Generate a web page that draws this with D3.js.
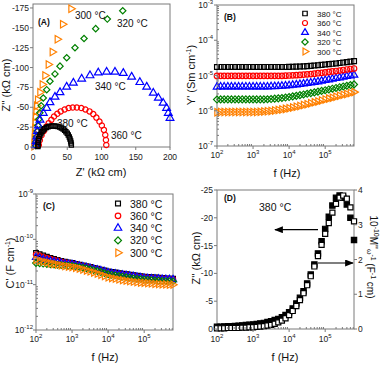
<!DOCTYPE html>
<html>
<head>
<meta charset="utf-8">
<script src="https://cdn.jsdelivr.net/npm/d3@7"></script>
<style>
    body { margin: 0; background: #fff; }
    svg { display: block; font-family: Arial, "Liberation Sans", sans-serif; }
</style>
</head>
<body>
<svg id="chart" width="380" height="366"></svg>
<script>
// ---- data ----
const temps = ['380 °C', '360 °C', '340 °C', '320 °C', '300 °C'];
const colors = ['#000000', '#ff0000', '#0000ff', '#008000', '#ff8000'];
const shapes = ['square', 'circle', 'triangle', 'diamond', 'right'];

// (A) Nyquist plots, [Z', -Z''] in kOhm cm
const nyq380 = [[7.2, 0.5], [7.3, 2.5], [7.5, 5.2], [7.8, 8], [8.4, 10.5], [9.2, 13], [10.3, 15.3], [11.7, 17.7],
    [13.2, 19.6], [15, 21.5], [17, 23], [19.5, 24.5], [22, 25.5], [24.8, 26.2], [27.7, 26.5], [30.7, 26.6],
    [33.5, 26.2], [36.5, 25.7], [39, 25], [41.4, 24], [44, 22.6], [46.2, 21.1], [48, 19.3], [50, 17.3],
    [51.5, 15], [53, 12.7], [54, 10], [55, 7.6], [55.5, 5], [56, 2.5]];
const nyq360 = [[8.5, 2.5], [10, 8.5], [12.5, 14.8], [16, 20.3], [19.5, 25.7], [22.9, 30], [26.8, 34.2],
    [30.7, 38.4], [35.5, 41.8], [40.4, 44.8], [46.2, 47.3], [52, 49], [58, 49.8], [64, 49.8], [70.5, 49],
    [76.5, 47.3], [82.5, 44.8], [88, 41.4], [92.5, 37], [97, 32], [100.5, 27], [103.5, 21.5], [105.5, 15.2],
    [106.5, 8.9], [107, 2.5]];
const nyq340 = [[4, 2], [4.5, 7], [5.5, 13], [6.5, 20], [8, 27], [10.2, 34.2], [15, 42.7], [20, 49], [24.8, 56.2],
    [32.1, 63], [39.4, 68.8], [49.1, 75.7], [58.9, 80.7], [71, 85.8], [83.2, 90], [95.3, 93.5], [107.5, 94.5],
    [119.7, 94.5], [131.8, 93], [144, 88.3], [156, 81.5], [166, 75.7], [175.6, 68], [183, 61.7], [190, 55.4],
    [195, 49], [197.5, 42.7], [200, 36.4]];
const nyq320 = [[4, 2], [4.5, 7], [5, 13], [6, 20], [7, 27], [8.5, 35], [10, 43], [12, 52], [15, 61.7], [20, 72.2],
    [24.8, 82.8], [32.1, 92], [39.4, 101.8], [49.2, 112.4], [61.3, 125], [74.5, 136.5], [91.5, 149],
    [108.5, 161], [131, 171.5]];
const nyq300 = [[1.5, 1], [1.7, 5], [2, 11], [2.3, 17], [2.7, 24], [3.2, 31], [3.8, 38], [4.5, 45], [5.5, 52],
    [6.8, 59.6], [10.2, 68.8], [13.6, 78.6], [17.5, 90], [22.4, 103.9], [28.2, 119.5], [35.5, 135.6],
    [43.3, 154.6], [55.5, 174]];

// measurement frequencies (Hz)
const freq = [100, 126, 158, 200, 251, 316, 398, 501, 631, 794,
    1000, 1259, 1585, 1995, 2512, 3162, 3981, 5012, 6310, 7943,
    10000, 12589, 15849, 19953, 25119, 31623, 39811, 50119, 63096, 79433,
    100000, 125893, 158489, 199526, 251189, 316228, 398107, 501187, 630957];

// (B) Y' in 1e-6 S cm-1
const yp380 = [17.4, 17.5, 17.5, 17.5, 17.5, 17.5, 17.5, 17.5, 17.5, 17.5, 17.5, 17.5, 17.5, 17.5, 17.5, 17.5, 17.5, 17.5, 17.5, 17.5,
    17.6, 17.7, 17.8, 18.0, 18.2, 18.5, 18.8, 19.2, 19.6, 20.0, 20.5, 21.0, 21.5, 22.0, 22.7, 23.3, 24.0, 24.7, 25.5];
const yp360 = [9.7, 9.8, 9.8, 9.8, 9.8, 9.8, 9.8, 9.8, 9.8, 9.8, 9.8, 9.8, 9.8, 9.8, 9.8, 9.8, 9.8, 9.8, 9.8,
    9.9, 10.0, 10.1, 10.2, 10.4, 10.6, 10.8, 11.0, 11.3, 11.6, 11.9, 12.2, 12.6, 13.0, 13.4, 13.8, 14.3, 14.8, 15.3, 15.8];
const yp340 = [4.75, 4.8, 4.8, 4.8, 4.8, 4.8, 4.8, 4.8, 4.8, 4.8, 4.8, 4.8, 4.8, 4.8, 4.8,
    4.85, 4.9, 4.95, 5.0, 5.1, 5.2, 5.35, 5.5, 5.65, 5.8, 6.0, 6.2, 6.45, 6.7, 7.0, 7.3, 7.6, 7.95, 8.3, 8.7, 9.1, 9.5, 9.9, 10.3];
const yp320 = [2.08, 2.1, 2.1, 2.1, 2.1, 2.1, 2.1, 2.1, 2.1, 2.1, 2.1, 2.1, 2.1, 2.1,
    2.12, 2.15, 2.2, 2.25, 2.3, 2.37, 2.45, 2.55, 2.65, 2.77, 2.9, 3.03, 3.17, 3.32, 3.48, 3.65, 3.83, 4.02, 4.22, 4.43,
    4.65, 4.88, 5.12, 5.37, 5.6];
const yp300 = [0.91, 0.92, 0.92, 0.92, 0.92, 0.92, 0.92, 0.92, 0.92, 0.92, 0.92, 0.92,
    0.93, 0.95, 0.97, 0.99, 1.02, 1.05, 1.09, 1.13, 1.18, 1.24, 1.3, 1.37, 1.45, 1.54, 1.63, 1.73, 1.84, 1.96, 2.08,
    2.21, 2.35, 2.5, 2.66, 2.83, 3.0, 3.18, 3.38];

// (C) C' in 1e-11 F cm-1
const cp380 = [5.0, 4.7, 4.4, 4.15, 3.9, 3.7, 3.5, 3.35, 3.2, 3.1, 3.0, 2.88, 2.76, 2.65, 2.55, 2.45, 2.35, 2.25, 2.15, 2.05,
    1.95, 1.9, 1.85, 1.8, 1.75, 1.7, 1.66, 1.62, 1.58, 1.54, 1.5, 1.48, 1.46, 1.44, 1.42, 1.4, 1.38, 1.36, 1.35];
const cp360 = [4.6, 4.35, 4.1, 3.9, 3.7, 3.52, 3.36, 3.22, 3.1, 3.0, 2.9, 2.79, 2.68, 2.58, 2.48, 2.38, 2.28, 2.18, 2.08, 1.97,
    1.87, 1.82, 1.77, 1.72, 1.68, 1.64, 1.6, 1.56, 1.52, 1.48, 1.45, 1.43, 1.41, 1.39, 1.37, 1.36, 1.35, 1.33, 1.32];
const cp340 = [4.0, 3.8, 3.62, 3.46, 3.32, 3.2, 3.09, 2.99, 2.9, 2.85, 2.8, 2.7, 2.6, 2.5, 2.4, 2.31, 2.22, 2.13, 2.04, 1.95,
    1.85, 1.79, 1.74, 1.69, 1.64, 1.6, 1.56, 1.52, 1.48, 1.44, 1.4, 1.38, 1.36, 1.35, 1.34, 1.33, 1.32, 1.31, 1.3];
const cp320 = [3.0, 2.95, 2.9, 2.86, 2.82, 2.78, 2.74, 2.7, 2.66, 2.63, 2.6, 2.52, 2.44, 2.36, 2.28, 2.2, 2.1, 2.0, 1.9, 1.8,
    1.7, 1.65, 1.6, 1.55, 1.5, 1.46, 1.42, 1.38, 1.35, 1.32, 1.3, 1.28, 1.26, 1.24, 1.22, 1.21, 1.2, 1.19, 1.18];
const cp300 = [3.5, 3.35, 3.2, 3.08, 2.96, 2.85, 2.75, 2.65, 2.57, 2.5, 2.45, 2.35, 2.25, 2.15, 2.05, 1.95, 1.85, 1.75, 1.65, 1.55,
    1.45, 1.4, 1.35, 1.3, 1.26, 1.22, 1.19, 1.16, 1.13, 1.11, 1.1, 1.08, 1.06, 1.04, 1.03, 1.02, 1.01, 1.0, 1.0];

// (D) 380 °C: Z'' (kOhm cm, left axis) and 1e-10 M''/w (right axis)
const dZ = [-0.4, -0.4, -0.45, -0.5, -0.5, -0.55, -0.6, -0.65, -0.7, -0.75,
    -0.8, -0.9, -1.0, -1.1, -1.25, -1.4, -1.6, -1.8, -2.1, -2.5,
    -3.0, -3.7, -4.6, -5.6, -6.8, -8.2, -9.8, -11.6, -13.6, -15.8,
    -18.0, -20.2, -22.2, -23.6, -24.0, -23.6, -22.4, -20.0, -16.0];
const dM = [0.02, 0.02, 0.02, 0.03, 0.03, 0.03, 0.03, 0.04, 0.04, 0.05,
    0.05, 0.06, 0.07, 0.08, 0.1, 0.12, 0.15, 0.19, 0.24, 0.31,
    0.4, 0.52, 0.66, 0.83, 1.03, 1.26, 1.52, 1.8, 2.1, 2.42,
    2.74, 3.05, 3.35, 3.6, 3.78, 3.84, 3.75, 3.5, 3.1];

const logExpX = [2, 3, 4, 5];

// ---- helpers ----
const svg = d3.select('#chart');
svg.append('rect').attr('width', 380).attr('height', 366).attr('fill', '#fff');

const defs = svg.append('defs');
defs.append('marker')
    .attr('id', 'arrow')
    .attr('viewBox', '0 0 10 8')
    .attr('refX', 9).attr('refY', 4)
    .attr('markerWidth', 9).attr('markerHeight', 7)
    .attr('markerUnits', 'userSpaceOnUse')
    .attr('orient', 'auto')
    .append('path').attr('d', 'M0,0 L10,4 L0,8 z').attr('fill', '#000');

function symbolPath(shape, size) {
    if (shape === 'circle') return d3.symbol(d3.symbolCircle, size)();
    if (shape === 'triangle' || shape === 'right') return d3.symbol(d3.symbolTriangle, size)();
    return d3.symbol(d3.symbolSquare, size)();
}
function symbolRot(shape) {
    if (shape === 'diamond') return 45;
    if (shape === 'right') return 90;
    return 0;
}

function drawMarks(g, pts, shape, color, size, fill) {
    g.append('g').selectAll('path')
        .data(pts)
        .enter().append('path')
        .attr('d', symbolPath(shape, size))
        .attr('transform', (d) => 'translate(' + d[0] + ',' + d[1] + ') rotate(' + symbolRot(shape) + ')')
        .attr('fill', fill || 'none')
        .attr('stroke', color)
        .attr('stroke-width', 1.2);
}

function frame(x0, y0, x1, y1) {
    svg.append('rect')
        .attr('x', x0).attr('y', y0)
        .attr('width', x1 - x0).attr('height', y1 - y0)
        .attr('fill', 'none').attr('stroke', '#7a7a7a').attr('stroke-width', 1);
}

function pow10(x, y, e, anchor) {
    let t = svg.append('text')
        .attr('x', x).attr('y', y)
        .attr('text-anchor', anchor)
        .attr('font-size', 8.5).attr('fill', '#222');
    t.append('tspan').text('10');
    t.append('tspan').attr('dy', -4).attr('font-size', 6).text(e);
    return t;
}

function minorLogTicks(scale, lo, hi, axis, pos, dir) {
    // small inward ticks at 2..9 x 10^k
    for (let k = lo; k < hi; k++) {
        for (let m = 2; m <= 9; m++) {
            let v = m * Math.pow(10, k);
            let p = scale(v);
            if (axis === 'x') {
                if (p > scale.range()[1]) continue;
                svg.append('line').attr('x1', p).attr('x2', p).attr('y1', pos).attr('y2', pos + dir * 2)
                    .attr('stroke', '#7a7a7a');
            } else {
                svg.append('line').attr('y1', p).attr('y2', p).attr('x1', pos).attr('x2', pos + dir * 2)
                    .attr('stroke', '#7a7a7a');
            }
        }
    }
}

function axisTitle(text, x, y, rotate, size) {
    let t = svg.append('text')
        .attr('transform', 'translate(' + x + ',' + y + ') rotate(' + (rotate || 0) + ')')
        .attr('text-anchor', 'middle')
        .attr('font-size', size || 11)
        .attr('fill', '#111');
    text.forEach(function (part) {
        let s = t.append('tspan').text(part[0]);
        if (part[1] === 'sup') s.attr('dy', -4).attr('font-size', 7);
        if (part[1] === 'sub') s.attr('dy', 3).attr('font-size', 7);
        if (part[1] === 'base') s.attr('dy', part[2]);
    });
    return t;
}

function label(text, x, y, size, bold) {
    svg.append('text').attr('x', x).attr('y', y)
        .attr('font-size', size).attr('font-weight', bold ? 'bold' : 'normal')
        .attr('fill', '#111').text(text);
}

// ---- (A) Nyquist ----
const xA = d3.scaleLinear().domain([0, 200]).range([33, 170]);
const yA = d3.scaleLinear().domain([0, 180]).range([147, 4]);
const nyqAll = [nyq380, nyq360, nyq340, nyq320, nyq300];
const aSizes = [18, 22, 26, 20, 24];

frame(33, 4, 170, 147);
let gA = svg.append('g');
for (let i = nyqAll.length - 1; i >= 0; i--) {
    drawMarks(gA, nyqAll[i].map((d) => [xA(d[0]), yA(d[1])]), shapes[i], colors[i], aSizes[i]);
}
[0, 50, 100, 150, 200].forEach(function (v) {
    svg.append('line').attr('x1', xA(v)).attr('x2', xA(v)).attr('y1', 147).attr('y2', 150).attr('stroke', '#7a7a7a');
    svg.append('text').attr('x', xA(v)).attr('y', 160).attr('text-anchor', 'middle')
        .attr('font-size', 8.5).attr('fill', '#222').text(v);
});
d3.range(0, 176, 25).forEach(function (v) {
    svg.append('line').attr('x1', 30).attr('x2', 33).attr('y1', yA(v)).attr('y2', yA(v)).attr('stroke', '#7a7a7a');
    svg.append('text').attr('x', 29).attr('y', yA(v) + 3).attr('text-anchor', 'end')
        .attr('font-size', 8.5).attr('fill', '#222').text(v === 0 ? '0' : '-' + v);
});
label('(A)', 38, 25, 8.5, true);
label('300 °C', 75, 19, 10);
label('320 °C', 117, 27, 10);
label('340 °C', 95, 90, 10);
label('380 °C', 57, 127, 10);
label('360 °C', 111, 139, 10);
axisTitle([["Z' (kΩ cm)"]], 101, 176, 0, 11);
axisTitle([["Z'' (kΩ cm)"]], 10, 85, -90, 11);

// ---- (B) Y' ----
const xB = d3.scaleLog().domain([100, 630000]).range([217, 354]);
const yB = d3.scaleLog().domain([1e-7, 1e-3]).range([146, 5]);
const ypAll = [yp380, yp360, yp340, yp320, yp300];

frame(217, 5, 354, 146);
let gB = svg.append('g');
for (let i = ypAll.length - 1; i >= 0; i--) {
    drawMarks(gB, ypAll[i].map((v, j) => [xB(freq[j]), yB(v * 1e-6)]), shapes[i], colors[i], 24);
}
minorLogTicks(xB, 2, 6, 'x', 146, -1);
minorLogTicks(yB, -7, -3, 'y', 217, 1);
logExpX.forEach(function (e) {
    svg.append('line').attr('x1', xB(Math.pow(10, e))).attr('x2', xB(Math.pow(10, e)))
        .attr('y1', 146).attr('y2', 149).attr('stroke', '#7a7a7a');
    pow10(xB(Math.pow(10, e)), 158, e, 'middle');
});
[-7, -6, -5, -4, -3].forEach(function (e) {
    svg.append('line').attr('x1', 214).attr('x2', 217).attr('y1', yB(Math.pow(10, e))).attr('y2', yB(Math.pow(10, e)))
        .attr('stroke', '#7a7a7a');
    pow10(213, yB(Math.pow(10, e)) + 3, e, 'end');
});
label('(B)', 224, 20, 8.5, true);
temps.forEach(function (t, i) {
    let cy = 13.5 + i * 9.5;
    drawMarks(gB, [[305, cy]], shapes[i], colors[i], 20);
    label(t, 317, cy + 3, 8);
});
axisTitle([['f (Hz)']], 287, 177, 0, 11);
axisTitle([["Y' (Sm cm"], ['-1', 'sup'], [')', 'base', 4]], 195, 75, -90, 11);

// ---- (C) C' ----
const xC = d3.scaleLog().domain([100, 630000]).range([36, 173]);
const yC = d3.scaleLog().domain([1e-12, 1e-9]).range([330, 194]);
const cpAll = [cp380, cp360, cp340, cp320, cp300];

frame(36, 194, 173, 330);
let gC = svg.append('g');
for (let i = 0; i < cpAll.length; i++) {
    drawMarks(gC, cpAll[i].map((v, j) => [xC(freq[j]), yC(v * 1e-11)]), shapes[i], colors[i], 22);
}
minorLogTicks(xC, 2, 6, 'x', 330, -1);
minorLogTicks(yC, -12, -9, 'y', 36, 1);
logExpX.forEach(function (e) {
    svg.append('line').attr('x1', xC(Math.pow(10, e))).attr('x2', xC(Math.pow(10, e)))
        .attr('y1', 330).attr('y2', 333).attr('stroke', '#7a7a7a');
    pow10(xC(Math.pow(10, e)), 342, e, 'middle');
});
[-12, -11, -10, -9].forEach(function (e) {
    svg.append('line').attr('x1', 33).attr('x2', 36).attr('y1', yC(Math.pow(10, e))).attr('y2', yC(Math.pow(10, e)))
        .attr('stroke', '#7a7a7a');
    pow10(33, yC(Math.pow(10, e)) + 3, e, 'end');
});
label('(C)', 43, 209, 8.5, true);
temps.forEach(function (t, i) {
    let cy = 203.5 + i * 12.3;
    drawMarks(gC, [[118, cy]], shapes[i], colors[i], 24);
    label(t, 130, cy + 4, 10.5);
});
axisTitle([['f (Hz)']], 105, 361, 0, 11);
axisTitle([["C' (F cm"], ['-1', 'sup'], [')', 'base', 4]], 14, 263, -90, 11);

// ---- (D) Z'' and M'' ----
const xD = d3.scaleLog().domain([100, 630000]).range([217, 354]);
const yD = d3.scaleLinear().domain([0, -25]).range([329, 190]);
const yD2 = d3.scaleLinear().domain([0, 4]).range([329, 190]);

frame(217, 190, 354, 329);
let gD = svg.append('g');
drawMarks(gD, dZ.map((v, j) => [xD(freq[j]), yD(v)]), 'square', '#000', 28, '#000');
drawMarks(gD, dM.map((v, j) => [xD(freq[j]), yD2(v)]), 'square', '#000', 26, '#fff');
minorLogTicks(xD, 2, 6, 'x', 329, -1);
logExpX.forEach(function (e) {
    svg.append('line').attr('x1', xD(Math.pow(10, e))).attr('x2', xD(Math.pow(10, e)))
        .attr('y1', 329).attr('y2', 332).attr('stroke', '#7a7a7a');
    pow10(xD(Math.pow(10, e)), 342, e, 'middle');
});
[0, -5, -10, -15, -20, -25].forEach(function (v) {
    svg.append('line').attr('x1', 214).attr('x2', 217).attr('y1', yD(v)).attr('y2', yD(v)).attr('stroke', '#7a7a7a');
    svg.append('text').attr('x', 213).attr('y', yD(v) + 3).attr('text-anchor', 'end')
        .attr('font-size', 8.5).attr('fill', '#222').text(v);
});
[0, 1, 2, 3, 4].forEach(function (v) {
    svg.append('line').attr('x1', 354).attr('x2', 357).attr('y1', yD2(v)).attr('y2', yD2(v)).attr('stroke', '#7a7a7a');
    svg.append('text').attr('x', 358).attr('y', yD2(v) + 3).attr('text-anchor', 'start')
        .attr('font-size', 8.5).attr('fill', '#222').text(v);
});
svg.append('line').attr('x1', 318).attr('y1', 229.7).attr('x2', 275).attr('y2', 229.7)
    .attr('stroke', '#000').attr('stroke-width', 1.2).attr('marker-end', 'url(#arrow)');
svg.append('line').attr('x1', 318).attr('y1', 263).attr('x2', 353).attr('y2', 263)
    .attr('stroke', '#000').attr('stroke-width', 1.2).attr('marker-end', 'url(#arrow)');
label('(D)', 224, 201, 8.5, true);
label('380 °C', 259, 211, 10.5);
axisTitle([['f (Hz)']], 285, 361, 0, 11);
axisTitle([["Z'' (kΩ cm)"]], 200, 258, -90, 11);
axisTitle([['10'], ['-10', 'sup'], ["M''", 'base', 4], ['ω', 'sub'], ['-1', 'sup', ], [' (F', 'base', 4],
    ['-1', 'sup'], [' cm)', 'base', 4]], 370, 257, 90, 10);
</script>
</body>
</html>
